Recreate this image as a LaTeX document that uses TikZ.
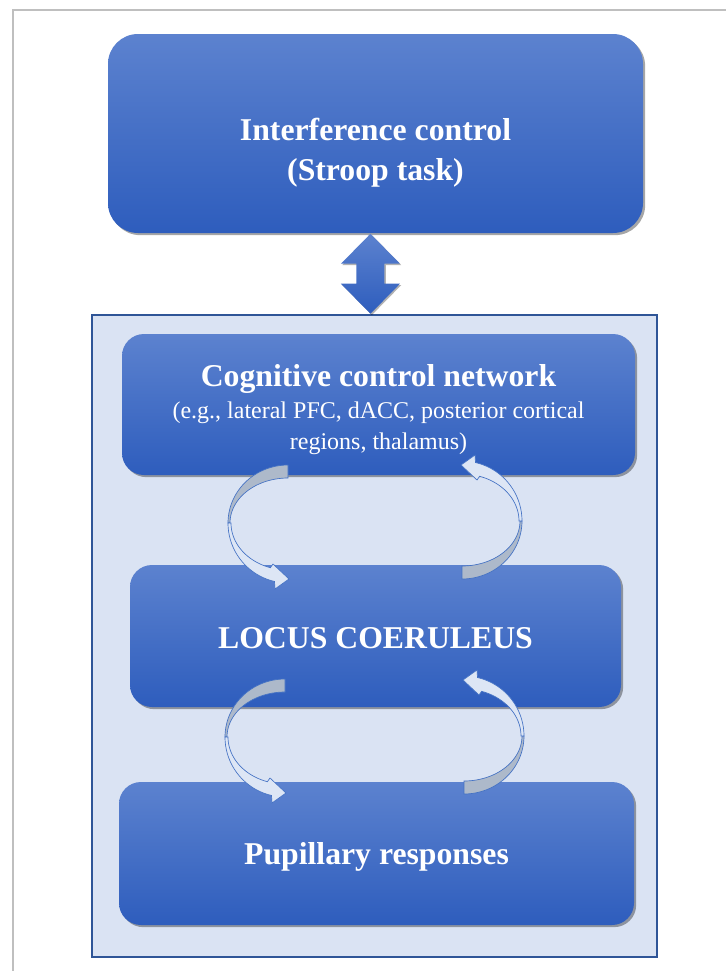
\documentclass[tikz,border=0pt]{standalone}
\usepackage{fontspec}
\setmainfont{Liberation Serif}
\usetikzlibrary{shadows,calc}

\definecolor{boxtop}{HTML}{5C82CF}
\definecolor{boxbot}{HTML}{2E5DBD}
\definecolor{panelfill}{HTML}{DAE3F3}
\definecolor{paneledge}{HTML}{2F5597}
\definecolor{framegray}{HTML}{BFBFBF}
\definecolor{ribbonfront}{HTML}{DDE6F5}
\definecolor{ribbonback}{HTML}{ADB9CA}
\definecolor{ribbonedge}{HTML}{4472C4}

\tikzset{
  bluebox/.style={rounded corners=16.5pt, top color=boxtop, bottom color=boxbot, draw=none,
    drop shadow={shadow xshift=1.6pt, shadow yshift=-1.6pt, opacity=0.35, fill=black}},
  titletext/.style={text=white, align=center, font=\fontsize{23.8}{30}\selectfont\bfseries},
  subtext/.style={text=white, align=center, font=\fontsize{18}{23}\selectfont},
  % half of the feedback loop, local units in px with y pointing down
  loophalf/.pic={
    \filldraw[fill=ribbonback, draw=ribbonedge, line width=0.5pt]
      plot[samples=30,domain=90:180] ({60*cos(\x)},{-58*sin(\x)})
      -- plot[samples=30,domain=180:90] ({58*cos(\x)},{-45*sin(\x)}) -- cycle;
    \filldraw[fill=ribbonfront, draw=ribbonedge, line width=0.5pt]
      plot[samples=30,domain=180:257] ({60*cos(\x)},{-60*sin(\x)})
      -- (-13,66) -- (1,56) -- (-15,41)
      -- plot[samples=30,domain=252:180] ({57*cos(\x)},{-47*sin(\x)}) -- cycle;
  }
}

\begin{document}
\begin{tikzpicture}[x=0.75pt,y=-0.75pt]
  \useasboundingbox (0,0) rectangle (726,971);
  \draw[framegray, line width=1.5pt] (13,971) -- (13,10) -- (726,10);

  % task box
  \node[bluebox, rounded corners=22.5pt, minimum width=535*0.75pt, minimum height=199*0.75pt] (interf) at (375.5,133.5) {};
  \node[titletext] (interftext) at (375.5,153) {Interference control\\(Stroop task)};

  % panel holding the loop
  \node[fill=panelfill, draw=paneledge, line width=1.2pt, minimum width=565*0.75pt, minimum height=642*0.75pt] (panel) at (374.5,636) {};

  % two-way link between task and panel
  \coordinate (link) at ($(interf.south)!0.5!(panel.north)$);
  \begin{scope}[shift={(link)}, xshift=-3.4pt]
    \shade[top color=boxtop, bottom color=boxbot, drop shadow={shadow xshift=1pt, shadow yshift=-1pt, opacity=0.3, fill=black}]
      (0,-40) -- (29.5,-10) -- (14,-10) -- (14,10) -- (29.5,10) -- (0,40)
      -- (-29.5,10) -- (-14,10) -- (-14,-10) -- (-29.5,-10) -- cycle;
  \end{scope}

  \node[bluebox, minimum width=513*0.75pt, minimum height=141*0.75pt] (ccn) at (378.5,404.5) {};
  \node[titletext] (ccntitle) at (378.5,379) {Cognitive control network};
  \node[subtext] (ccnsub) at (378.5,428) {(e.g., lateral PFC, dACC, posterior cortical\\regions, thalamus)};

  \node[bluebox, minimum width=491*0.75pt, minimum height=142*0.75pt] (lc) at (375.5,636) {};
  \node[titletext] (lctext) at (375.5,638) {LOCUS COERULEUS};

  \node[bluebox, minimum width=515*0.75pt, minimum height=143*0.75pt] (pupil) at (376.5,853.5) {};
  \node[titletext] (pupiltext) at (376.5,857) {Pupillary responses};

  % feedback loops between the levels
  \pic at (288,523) {loophalf};
  \pic[rotate=180] at (462,521) {loophalf};
  \pic at (285,737) {loophalf};
  \pic[rotate=180] at (464,736) {loophalf};
\end{tikzpicture}
\end{document}
